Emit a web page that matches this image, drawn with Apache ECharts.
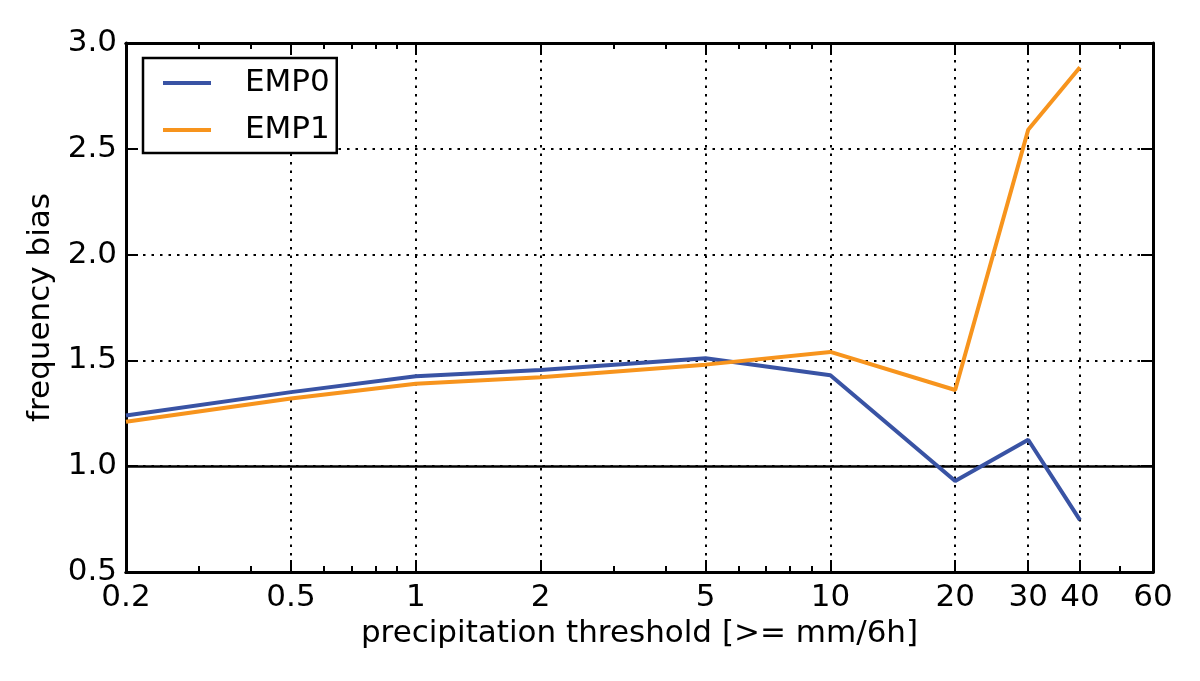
<!DOCTYPE html>
<html><head><meta charset="utf-8">
<script src="https://cdn.jsdelivr.net/npm/echarts@6/dist/echarts.min.js"></script>
<style>html,body{margin:0;padding:0;background:#fff}#c{width:1200px;height:681px}</style>
</head><body><div id="c"></div>
<script>
const thresholds = [0.2, 0.5, 1, 2, 5, 10, 20, 30, 40];
const emp0 = [1.24, 1.35, 1.425, 1.455, 1.51, 1.43, 0.93, 1.125, 0.745];
const emp1 = [1.21, 1.32, 1.39, 1.42, 1.48, 1.54, 1.36, 2.59, 2.885];
const seriesNames = ['EMP0', 'EMP1'];
const xLabelValues = [0.2, 0.5, 1, 2, 5, 10, 20, 30, 40, 60];
const xMajorTicks = [0.5, 1, 2, 5, 10, 20, 30, 40];
const xMinorTicks = [0.3, 0.4, 0.6, 0.7, 0.8, 0.9, 3, 4, 6, 7, 8, 9, 50];
const refValue = 1.0;

const FONT = 'DejaVu Sans';
const FS = 31;
const black = '#000';
const xMin = 0.2, xMax = 60;

function xAx(pos, ticks, len, opts) {
  return Object.assign({
    type: 'log', min: xMin, max: xMax, position: pos, logBase: 10,
    axisLine: { show: true, lineStyle: { color: black, width: 3 } },
    axisTick: { show: true, inside: true, length: len, customValues: ticks, lineStyle: { color: black, width: 2 } },
    axisLabel: { show: false },
    splitLine: { show: false },
    minorTick: { show: false }, minorSplitLine: { show: false }
  }, opts || {});
}

const xAxes = [
  xAx('bottom', xMajorTicks, 12, {
    axisLabel: {
      show: true, customValues: xLabelValues, margin: 10,
      color: black, fontFamily: FONT, fontSize: FS,
      formatter: v => String(+(+v).toPrecision(6))
    },
    splitLine: { show: true, lineStyle: { color: black, width: 2, type: [2.5, 6] } },
    name: 'precipitation threshold [>= mm/6h]', nameLocation: 'middle', nameGap: 46,
    nameTextStyle: { color: black, fontFamily: FONT, fontSize: FS }
  }),
  xAx('bottom', xMinorTicks, 6),
  xAx('top', xMajorTicks, 12),
  xAx('top', xMinorTicks, 6)
];

function yAx(pos, opts) {
  return Object.assign({
    type: 'value', min: 0.5, max: 3.0, interval: 0.5, position: pos,
    axisLine: { show: true, lineStyle: { color: black, width: 3 } },
    axisTick: { show: true, inside: true, length: 12, lineStyle: { color: black, width: 2 } },
    axisLabel: { show: false },
    splitLine: { show: false }
  }, opts || {});
}

const yAxes = [
  yAx('left', {
    axisLabel: { show: true, margin: 9, color: black, fontFamily: FONT, fontSize: FS, formatter: v => v.toFixed(1) },
    splitLine: { show: true, lineStyle: { color: black, width: 2, type: [2.5, 6] } },
    name: 'frequency bias', nameLocation: 'middle', nameGap: 70,
    nameTextStyle: { color: black, fontFamily: FONT, fontSize: FS }
  }),
  yAx('right')
];

const chart = echarts.init(document.getElementById('c'), null, { renderer: 'canvas' });
chart.setOption({
  animation: false,
  backgroundColor: '#fff',
  grid: { left: 126, right: 47, top: 43, bottom: 109, containLabel: false },
  legend: {
    left: 143, top: 58, orient: 'vertical',
    data: seriesNames.map(n => ({ name: n, icon: 'rect' })),
    backgroundColor: '#fff', borderColor: black, borderWidth: 2.5, borderRadius: 0,
    padding: [8, 7, 6, 20],
    itemWidth: 48, itemHeight: 4, itemGap: 13,
    textStyle: { color: black, fontFamily: FONT, fontSize: FS, lineHeight: 34, padding: [0, 0, 0, 29] }
  },
  xAxis: xAxes,
  yAxis: yAxes,
  series: [
    {
      name: seriesNames[0], type: 'line', xAxisIndex: 0, yAxisIndex: 0,
      data: thresholds.map((x, i) => [x, emp0[i]]),
      symbol: 'none', color: '#3953a4', lineStyle: { width: 4, color: '#3953a4' }, z: 3,
      markLine: {
        silent: true, symbol: 'none', label: { show: false },
        lineStyle: { color: black, width: 2.5, type: 'solid' },
        data: [{ yAxis: refValue }], z: 2
      }
    },
    {
      name: seriesNames[1], type: 'line', xAxisIndex: 0, yAxisIndex: 0,
      data: thresholds.map((x, i) => [x, emp1[i]]),
      symbol: 'none', color: '#f7941d', lineStyle: { width: 4, color: '#f7941d' }, z: 3
    }
  ]
});
</script></body></html>
